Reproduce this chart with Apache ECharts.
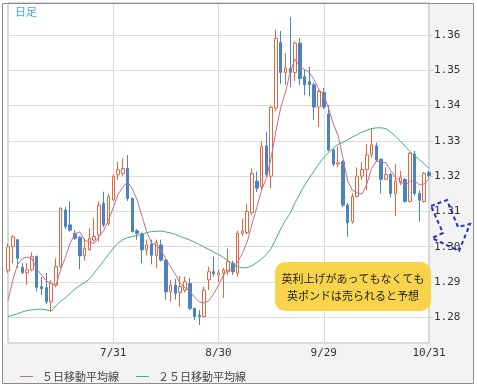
<!DOCTYPE html>
<html><head><meta charset="utf-8">
<style>html,body{margin:0;padding:0;background:#fff}#c{width:477px;height:386px}</style>
<script src="https://cdn.jsdelivr.net/npm/echarts@6/dist/echarts.min.js"></script>
</head><body><div id="c"></div><script>
const dates = ['6/29','6/30','7/3','7/4','7/5','7/6','7/7','7/10','7/11','7/12',
'7/13','7/14','7/17','7/18','7/19','7/20','7/21','7/24','7/25','7/26',
'7/27','7/28','7/31','8/1','8/2','8/3','8/4','8/7','8/8','8/9',
'8/10','8/11','8/14','8/15','8/16','8/17','8/18','8/21','8/22','8/23',
'8/24','8/25','8/28','8/29','8/30','8/31','9/1','9/4','9/5','9/6',
'9/7','9/8','9/11','9/12','9/13','9/14','9/15','9/18','9/19','9/20',
'9/21','9/22','9/25','9/26','9/27','9/28','9/29','10/2','10/3','10/4',
'10/5','10/6','10/9','10/10','10/11','10/12','10/13','10/16','10/17','10/18',
'10/19','10/20','10/23','10/24','10/25','10/26','10/27','10/30','10/31'];
const opens = [1.2932,1.3000,1.3020,1.2942,1.2926,1.2934,1.2972,1.2887,1.2884,1.2844,
1.2891,1.2944,1.3104,1.3062,1.3038,1.3027,1.2974,1.2991,1.3019,1.3033,
1.3123,1.3066,1.3133,1.3204,1.3208,1.3222,1.3137,1.3045,1.3036,1.2991,
1.3008,1.2975,1.3005,1.2962,1.2872,1.2891,1.2870,1.2877,1.2896,1.2825,
1.2806,1.2802,1.2906,1.2929,1.2920,1.2925,1.2929,1.2953,1.2925,1.3037,
1.3040,1.3097,1.3186,1.3171,1.3286,1.3200,1.3393,1.3579,1.3494,1.3506,
1.3494,1.3577,1.3482,1.3468,1.3459,1.3396,1.3437,1.3376,1.3274,1.3234,
1.3241,1.3118,1.3071,1.3142,1.3200,1.3219,1.3260,1.3286,1.3248,1.3191,
1.3205,1.3151,1.3182,1.3191,1.3128,1.3263,1.3151,1.3128,1.3210];
const closes = [1.3000,1.3028,1.2967,1.2927,1.2934,1.2972,1.2885,1.2881,1.2844,1.2896,
1.2944,1.3109,1.3057,1.3047,1.3024,1.2974,1.2995,1.3024,1.3029,1.3118,
1.3062,1.3142,1.3200,1.3218,1.3222,1.3137,1.3043,1.3038,1.2991,1.3005,
1.2976,1.3012,1.2962,1.2872,1.2891,1.2868,1.2887,1.2901,1.2825,1.2802,
1.2802,1.2877,1.2929,1.2923,1.2926,1.2934,1.2958,1.2929,1.3038,1.3045,
1.3100,1.3208,1.3166,1.3284,1.3205,1.3395,1.3591,1.3494,1.3506,1.3494,
1.3577,1.3477,1.3459,1.3459,1.3396,1.3440,1.3396,1.3274,1.3234,1.3238,
1.3118,1.3068,1.3142,1.3200,1.3219,1.3260,1.3289,1.3246,1.3191,1.3205,
1.3151,1.3186,1.3197,1.3128,1.3265,1.3151,1.3132,1.3208,1.3202];
const lows = [1.2925,1.2953,1.2939,1.2922,1.2891,1.2930,1.2873,1.2863,1.2837,1.2816,
1.2885,1.2940,1.3050,1.3043,1.3019,1.2936,1.2960,1.2990,1.3014,1.3014,
1.3055,1.3060,1.3130,1.3190,1.3200,1.3130,1.3040,1.3020,1.2953,1.2975,
1.2950,1.2939,1.2958,1.2850,1.2844,1.2850,1.2830,1.2870,1.2820,1.2792,
1.2778,1.2800,1.2877,1.2915,1.2900,1.2855,1.2920,1.2920,1.2915,1.3030,
1.3035,1.3090,1.3155,1.3160,1.3198,1.3166,1.3385,1.3462,1.3459,1.3452,
1.3470,1.3459,1.3430,1.3426,1.3359,1.3340,1.3390,1.3270,1.3228,1.3225,
1.3112,1.3028,1.3065,1.3140,1.3190,1.3161,1.3252,1.3240,1.3151,1.3189,
1.3140,1.3087,1.3175,1.3125,1.3125,1.3145,1.3071,1.3125,1.3195];
const highs = [1.3010,1.3033,1.3020,1.2953,1.2953,1.2984,1.2975,1.2915,1.2925,1.2905,
1.2967,1.3112,1.3113,1.3128,1.3047,1.3030,1.3024,1.3052,1.3081,1.3128,
1.3156,1.3150,1.3205,1.3241,1.3251,1.3260,1.3140,1.3050,1.3040,1.3020,
1.3020,1.3020,1.3020,1.2965,1.2906,1.2908,1.2917,1.2915,1.2911,1.2828,
1.2820,1.2887,1.2943,1.2972,1.2935,1.2940,1.2995,1.2960,1.3045,1.3080,
1.3120,1.3222,1.3213,1.3298,1.3326,1.3400,1.3615,1.3612,1.3549,1.3651,
1.3582,1.3591,1.3501,1.3511,1.3465,1.3445,1.3450,1.3402,1.3278,1.3284,
1.3245,1.3125,1.3152,1.3225,1.3240,1.3291,1.3336,1.3295,1.3250,1.3225,
1.3210,1.3234,1.3215,1.3195,1.3268,1.3272,1.3160,1.3212,1.3215];
const ma5 = [1.2848,1.2905,1.2950,1.2966,1.2971,1.2966,1.2937,1.2920,1.2903,1.2896,
1.2890,1.2935,1.2970,1.3011,1.3036,1.3042,1.3019,1.3013,1.3009,1.3028,
1.3046,1.3075,1.3110,1.3148,1.3169,1.3184,1.3164,1.3132,1.3086,1.3043,
1.3011,1.3004,1.2989,1.2965,1.2943,1.2921,1.2896,1.2884,1.2874,1.2857,
1.2843,1.2841,1.2847,1.2867,1.2891,1.2918,1.2934,1.2934,1.2957,1.2981,
1.3014,1.3064,1.3111,1.3161,1.3193,1.3252,1.3328,1.3394,1.3438,1.3496,
1.3532,1.3510,1.3503,1.3493,1.3474,1.3446,1.3430,1.3393,1.3348,1.3316,
1.3252,1.3186,1.3160,1.3153,1.3149,1.3178,1.3222,1.3243,1.3241,1.3238,
1.3216,1.3196,1.3186,1.3173,1.3186,1.3186,1.3176,1.3178,1.3193];
const ma25 = [1.2802,1.2806,1.2810,1.2815,1.2819,1.2821,1.2823,1.2823,1.2821,1.2817,
1.2832,1.2846,1.2855,1.2868,1.2880,1.2890,1.2898,1.2908,1.2925,1.2942,
1.2960,1.2978,1.2996,1.3010,1.3020,1.3026,1.3029,1.3032,1.3036,1.3040,
1.3043,1.3044,1.3044,1.3042,1.3039,1.3035,1.3029,1.3024,1.3019,1.3013,
1.3006,1.2999,1.2992,1.2985,1.2978,1.2970,1.2960,1.2950,1.2944,1.2940,
1.2941,1.2946,1.2955,1.2965,1.2978,1.2995,1.3022,1.3050,1.3075,1.3095,
1.3125,1.3150,1.3175,1.3195,1.3215,1.3235,1.3253,1.3266,1.3280,1.3290,
1.3296,1.3303,1.3311,1.3318,1.3325,1.3330,1.3335,1.3337,1.3337,1.3335,
1.3325,1.3313,1.3300,1.3285,1.3270,1.3258,1.3247,1.3235,1.3222];
const xTickLabels = ['7/31','8/30','9/29','10/31'];
const seriesNames = ['５日移動平均線','２５日移動平均線'];

const candleData = dates.map((d, i) => [opens[i], closes[i], lows[i], highs[i]]);
const jp = '"Noto Sans CJK JP", sans-serif';
const mono = '"DejaVu Sans Mono", monospace';

const chart = echarts.init(document.getElementById('c'));
chart.setOption({
  animation: false,
  grid: {left: 8, right: 48, top: 3, bottom: 43, show: true, borderColor: '#b4b4b4', borderWidth: 1, backgroundColor: 'transparent'},
  xAxis: {
    type: 'category', data: dates, boundaryGap: false,
    axisLine: {show: false}, axisTick: {show: false},
    axisLabel: {interval: (i, v) => xTickLabels.includes(v), color: '#333', fontFamily: mono, fontSize: 11, margin: 5},
    splitLine: {show: true, interval: (i, v) => i === 0 || xTickLabels.includes(v), lineStyle: {color: '#d9d9d9'}}
  },
  yAxis: {
    type: 'value', position: 'right', min: 1.2727, max: 1.3691, splitNumber: 9,
    axisLine: {show: false},
    axisTick: {show: true, length: 4, lineStyle: {color: '#cccccc'}},
    axisLabel: {formatter: v => v.toFixed(2), showMinLabel: false, showMaxLabel: false, color: '#333', fontFamily: mono, fontSize: 11, margin: 5},
    splitLine: {show: true, lineStyle: {color: '#dcdcdc'}}
  },
  legend: {
    left: 15, top: 366, itemWidth: 13, itemHeight: 1, itemGap: 17, icon: 'rect',
    textStyle: {fontSize: 11, color: '#444', fontFamily: jp, padding: [0, 0, 0, 4]},
    data: seriesNames
  },
  graphic: [
    {type: 'rect', z: -100, shape: {x: 2, y: 3, width: 472, height: 380}, style: {fill: '#f3f3f3'}},
    {type: 'rect', z: -99, shape: {x: 2, y: 3, width: 427, height: 340}, style: {fill: '#ffffff'}},
    {type: 'rect', z: 50, silent: true, shape: {x: 2.5, y: 3.5, width: 471, height: 380}, style: {fill: 'none', stroke: '#8c8c8c', lineWidth: 1}},
    {type: 'text', z: 50, left: 15, top: 6, style: {text: '日足', fill: '#3aa9dc', font: '11px ' + jp}},
    {type: 'rect', z: 100, shape: {x: 275, y: 262, width: 156, height: 49, r: 10}, style: {fill: '#f7d44a'}},
    {type: 'text', z: 101, x: 353, y: 287, style: {text: '英利上げがあってもなくても\n英ポンドは売られると予想', fill: '#222', font: '11px ' + jp, align: 'center', verticalAlign: 'middle', lineHeight: 17}},
    {type: 'polygon', z: 100, shape: {points: [[431,206],[447,200],[458,227],[470,224],[459,251],[432,238],[443,233]]},
     style: {fill: 'none', stroke: '#1f30d0', lineWidth: 2, lineDash: [4, 3]}}
  ],
  series: [
    {type: 'candlestick', name: 'GBPUSD', data: candleData, barWidth: 3, clip: false,
     itemStyle: {color: '#ffffff', color0: '#4a84c0', borderColor: '#e2673f', borderColor0: '#4a84c0', borderWidth: 1}},
    {type: 'line', name: seriesNames[0], data: ma5, symbol: 'none', color: '#c46d8f', lineStyle: {width: 1, color: '#c46d8f'}, z: 3},
    {type: 'line', name: seriesNames[1], data: ma25, symbol: 'none', color: '#3cb37a', lineStyle: {width: 1, color: '#3cb37a'}, z: 3}
  ]
});
</script></body></html>
